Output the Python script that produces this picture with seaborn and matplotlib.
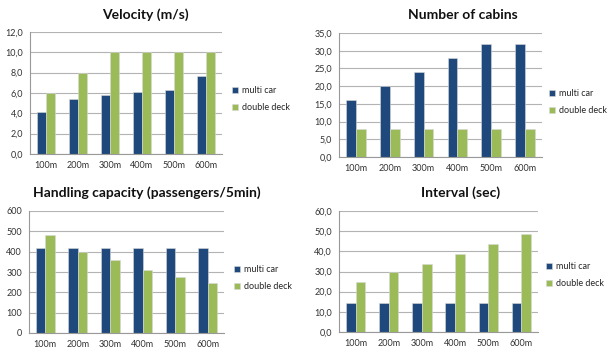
import numpy as np
import pandas as pd
import matplotlib
matplotlib.use("Agg")
import matplotlib.pyplot as plt
import seaborn as sns
from matplotlib.ticker import FixedLocator, FuncFormatter

categories = ["100m", "200m", "300m", "400m", "500m", "600m"]
series_names = ["multi car", "double deck"]

velocity_multi = [4.1, 5.4, 5.85, 6.1, 6.3, 7.7]
velocity_double = [6.0, 8.0, 10.0, 10.0, 10.0, 10.0]

cabins_multi = [16, 20, 24, 28, 32, 32]
cabins_double = [8, 8, 8, 8, 8, 8]

handling_multi = [417, 417, 417, 417, 417, 417]
handling_double = [483, 400, 357, 312, 275, 248]

interval_multi = [14.4, 14.4, 14.4, 14.4, 14.4, 14.4]
interval_double = [25.0, 30.0, 33.5, 38.5, 43.5, 48.5]

sns.set_style("white")
plt.rcParams['font.family'] = ['Lato', 'DejaVu Sans']

colors = ["#1F497D", "#9BBB59"]

fig = plt.figure(figsize=(6.12, 3.55), dpi=100)
W, H = 612.0, 355.0

panels = [
    ("Velocity (m/s)", velocity_multi, velocity_double, 12, 2, True, (30, 32, 222, 154), (232, 86), (145, 15)),
    ("Number of cabins", cabins_multi, cabins_double, 35, 5, True, (339, 33, 542, 157), (549, 89), (463, 15)),
    ("Handling capacity (passengers/5min)", handling_multi, handling_double, 600, 100, False, (29, 211, 224, 333), (234, 265), (147, 193)),
    ("Interval (sec)", interval_multi, interval_double, 60, 10, True, (339, 211, 538, 332), (546, 262), (461, 193)),
]

for title, m, d, ymax, step, dec, (x0, y0, x1, y1), (lx, ly), (tx, ty) in panels:
    ax = fig.add_axes([x0 / W, 1 - y1 / H, (x1 - x0) / W, (y1 - y0) / H])
    df = pd.DataFrame({
        "cat": categories * 2,
        "val": list(m) + list(d),
        "series": [series_names[0]] * len(categories) + [series_names[1]] * len(categories),
    })
    sns.barplot(data=df, x="cat", y="val", hue="series", palette=colors, width=0.58,
                ax=ax, edgecolor="#d9d9d9", linewidth=0.4, saturation=1)
    ax.set_ylim(0, ymax)
    ax.set_xlim(-0.5, len(categories) - 0.5)
    ticks = np.arange(0, ymax + step / 2, step)
    ax.set_yticks(ticks)
    if dec:
        ax.yaxis.set_major_formatter(FuncFormatter(lambda v, p: f"{v:.1f}".replace(".", ",")))
    else:
        ax.yaxis.set_major_formatter(FuncFormatter(lambda v, p: f"{int(v)}"))
    ax.yaxis.grid(True, color="#b3b3b3", linewidth=0.8)
    ax.set_axisbelow(True)
    for s in ["top", "right"]:
        ax.spines[s].set_visible(False)
    for s in ["left", "bottom"]:
        ax.spines[s].set_color("#999999")
        ax.spines[s].set_linewidth(0.8)
    ax.tick_params(axis="y", length=3, color="#999999", labelsize=6.5, pad=2, labelcolor="#333333")
    ax.tick_params(axis="x", which="major", length=0, labelsize=6.5, pad=5, labelcolor="#333333")
    ax.xaxis.set_minor_locator(FixedLocator(np.arange(-0.5, len(categories), 1.0)))
    ax.tick_params(axis="x", which="minor", length=3, color="#999999")
    ax.set_xlabel("")
    ax.set_ylabel("")
    fig.text(tx / W, 1 - ty / H, title, fontsize=10, fontweight="bold", color="#111111",
             ha="center", va="center")
    ax.legend(loc="upper left", bbox_to_anchor=((lx - x0) / (x1 - x0), (y1 - ly) / (y1 - y0)),
              bbox_transform=ax.transAxes, frameon=False, fontsize=6.5,
              handlelength=0.7, handleheight=0.7, handletextpad=0.4, labelspacing=0.9,
              borderaxespad=0, borderpad=0)

fig.savefig("out.png", dpi=100)
